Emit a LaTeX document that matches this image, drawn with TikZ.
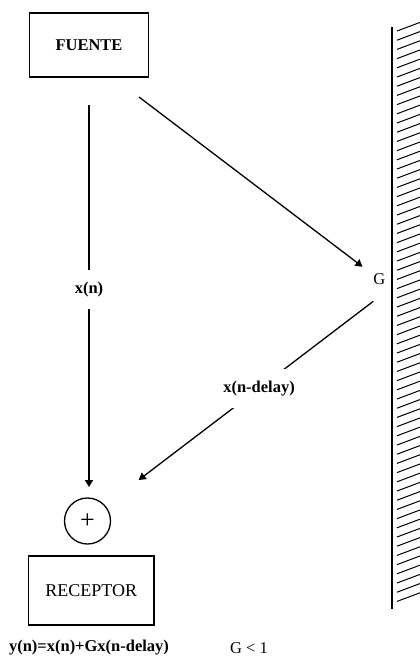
\documentclass[tikz,border=0pt]{standalone}
\usepackage{fontspec}
\setmainfont{Liberation Serif}
\usetikzlibrary{arrows.meta}
\begin{document}
\begin{tikzpicture}[x=1pt,y=-1pt,
  box/.style={draw,line width=1.6pt,inner sep=0pt},
  sig/.style={line width=1.3pt,-{Triangle[length=7pt,width=8pt]}},
  lab/.style={font=\fontsize{16.5}{19}\selectfont\bfseries,fill=white,inner xsep=2pt,inner ysep=12pt},
  txt/.style={font=\fontsize{16.5}{19}\selectfont}]
\useasboundingbox[fill=white] (0,0) rectangle (420,656);
% boxes
\node[box,minimum width=119pt,minimum height=64pt,font=\fontsize{16.5}{19}\selectfont\bfseries] (fuente) at (89,45) {FUENTE};
\node[box,minimum width=125.7pt,minimum height=69pt,font=\fontsize{18}{20}\selectfont] (receptor) at (91.2,590.5) {RECEPTOR};
\node[circle,draw,line width=1.3pt,minimum size=46pt,inner sep=0pt,font=\fontsize{26}{26}\selectfont] (sum) at (87.5,521) {+};
% direct path
\coordinate (xs) at (89,105);
\coordinate (xe) at (89,487);
\draw[sig,line width=1.8pt] (xs) -- node[lab,pos=0.484]{x(n)} (xe);
% path to wall
\coordinate (d1s) at (139,97);
\coordinate (d1e) at (362.5,266.7);
\draw[sig] (d1s) -- (d1e);
\node[txt] (g) at (379.3,279.3) {G};
% reflected path
\coordinate (r1s) at (373.3,301.3);
\coordinate (r1e) at (138.7,480);
\draw[sig] (r1s) -- node[lab,pos=0.487]{x(n-delay)} (r1e);
% bottom texts
\node[txt,font=\fontsize{16.5}{19}\selectfont\bfseries] (eq) at (89,648) {y(n)=x(n)+Gx(n-delay)};
\node[txt] (gc) at (249,648) {G < 1};
% wall
\draw[line width=2pt] (392,27) -- (392,609);
\begin{scope}
  \clip (380,0) rectangle (420,656);
  \foreach \i in {0,...,62}
    \draw[line width=1pt] (397,31+9.2*\i) -- ++(24,-9);
\end{scope}
\end{tikzpicture}
\end{document}
